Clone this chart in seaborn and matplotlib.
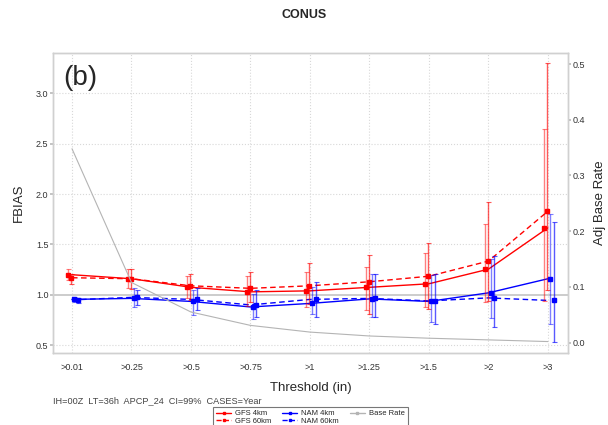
import numpy as np
import pandas as pd
import matplotlib
matplotlib.use('Agg')
import matplotlib.pyplot as plt
from matplotlib.lines import Line2D
from matplotlib.legend_handler import HandlerLine2D
import seaborn as sns

# thresholds and values
thresholds = ['>0.01', '>0.25', '>0.5', '>0.75', '>1', '>1.25', '>1.5', '>2', '>3']

gfs4 = [1.20, 1.16, 1.075, 1.03, 1.04, 1.075, 1.11, 1.255, 1.665]
gfs4_lo = [1.15, 1.065, 0.965, 0.885, 0.875, 0.85, 0.875, 0.925, 0.94]
gfs4_hi = [1.255, 1.255, 1.19, 1.19, 1.225, 1.28, 1.415, 1.705, 2.645]

gfs60 = [1.17, 1.16, 1.09, 1.065, 1.09, 1.13, 1.185, 1.335, 1.83]
gfs60_lo = [1.11, 1.055, 0.95, 0.925, 0.905, 0.815, 0.855, 0.94, 1.045]
gfs60_hi = [1.21, 1.255, 1.205, 1.225, 1.315, 1.395, 1.51, 1.92, 3.30]

nam4 = [0.955, 0.965, 0.935, 0.88, 0.915, 0.96, 0.935, 1.02, 1.16]
nam4_lo = [0.93, 0.875, 0.80, 0.76, 0.81, 0.785, 0.735, 0.77, 0.71]
nam4_hi = [0.98, 1.065, 1.05, 1.005, 1.08, 1.205, 1.195, 1.355, 1.80]

nam60 = [0.95, 0.975, 0.955, 0.90, 0.955, 0.965, 0.94, 0.97, 0.945]
nam60_lo = [0.92, 0.90, 0.845, 0.785, 0.785, 0.78, 0.71, 0.685, 0.535]
nam60_hi = [0.97, 1.05, 1.065, 1.05, 1.125, 1.205, 1.205, 1.39, 1.72]

base_rate = [0.348, 0.108, 0.055, 0.031, 0.019, 0.012, 0.008, 0.005, 0.002]

models = ['GFS 4km', 'GFS 60km', 'NAM 4km', 'NAM 60km']
series = {
    'GFS 4km': (gfs4, gfs4_lo, gfs4_hi),
    'GFS 60km': (gfs60, gfs60_lo, gfs60_hi),
    'NAM 4km': (nam4, nam4_lo, nam4_hi),
    'NAM 60km': (nam60, nam60_lo, nam60_hi),
}
colors = {'GFS 4km': 'red', 'GFS 60km': 'red', 'NAM 4km': 'blue', 'NAM 60km': 'blue'}
dashes = {'GFS 4km': '', 'GFS 60km': (4, 2.5), 'NAM 4km': '', 'NAM 60km': (4, 2.5)}
offsets = {'GFS 4km': -0.064, 'GFS 60km': -0.013, 'NAM 4km': 0.042, 'NAM 60km': 0.096}
bar_alpha = {'GFS 4km': 0.5, 'GFS 60km': 0.65, 'NAM 4km': 0.5, 'NAM 60km': 0.65}


# legend marker at the right end of the line, like the original
class EndMarker(HandlerLine2D):
    def get_xdata(self, legend, xdescent, ydescent, width, height, fontsize):
        xdata, _ = super().get_xdata(legend, xdescent, ydescent, width, height, fontsize)
        return xdata, [xdata[-1]]


sns.set_theme(style='white')
plt.rcParams['font.family'] = ['Liberation Sans', 'DejaVu Sans']

xpos = np.arange(len(thresholds))
rows = []
for m in models:
    for i, v in enumerate(series[m][0]):
        rows.append({'x': xpos[i], 'fbias': v, 'model': m})
df = pd.DataFrame(rows)

fig = plt.figure(figsize=(6.08, 4.25), dpi=100)
ax = fig.add_axes([0.0877, 0.1688, 0.8463, 0.7072])

# grid and the 1.0 reference line
for y in [0.5, 1.5, 2.0, 2.5, 3.0]:
    ax.axhline(y, color='#d8d8d8', lw=0.8, ls=':', zorder=0)
for x in xpos:
    ax.axvline(x, color='#d8d8d8', lw=0.8, ls=':', zorder=0)
ax.axhline(1.0, color='#c8c8c8', lw=1.3, zorder=1)

sns.lineplot(data=df, x='x', y='fbias', hue='model', style='model',
             palette=colors, dashes=dashes, lw=1.0, legend=False, ax=ax, zorder=3)

for m in models:
    v, lo, hi = series[m]
    v = np.array(v)
    err = [v - np.array(lo), np.array(hi) - v]
    ax.errorbar(xpos + offsets[m], v, yerr=err, fmt='none', ecolor=colors[m],
                elinewidth=1.0, capsize=1.8, capthick=0.8, alpha=bar_alpha[m], zorder=4)
    ax.plot(xpos + offsets[m], v, 's', color=colors[m], ms=2.6, zorder=5)

ax.set_xlim(-0.314, 8.336)
ax.set_ylim(0.4206, 3.403)
ax.set_yticks([0.5, 1.0, 1.5, 2.0, 2.5, 3.0])
ax.set_yticklabels(['0.5', '1.0', '1.5', '2.0', '2.5', '3.0'])
ax.set_xticks(xpos)
ax.set_xticklabels(thresholds)
ax.tick_params(axis='x', length=0, pad=7, labelsize=6.5, labelcolor='#333333')
ax.tick_params(axis='y', length=2, pad=1.5, labelsize=6.5, color='#bbbbbb', labelcolor='#333333')
ax.set_xlabel('Threshold (in)', fontsize=9.5, labelpad=7)
ax.set_ylabel('FBIAS', fontsize=9.5, labelpad=8)

ax2 = ax.twinx()
sns.lineplot(x=xpos, y=base_rate, color='#b4b4b4', lw=0.8, ax=ax2)
ax2.set_ylim(-0.019, 0.5203)
ax2.set_yticks([0.0, 0.1, 0.2, 0.3, 0.4, 0.5])
ax2.set_yticklabels(['0.0', '0.1', '0.2', '0.3', '0.4', '0.5'])
ax2.tick_params(axis='y', length=2, pad=1.5, labelsize=6.5, color='#bbbbbb', labelcolor='#333333')
ax2.set_ylabel('Adj Base Rate', fontsize=9.5, labelpad=6)

for a in (ax, ax2):
    for s in a.spines.values():
        s.set_color('#d0d0d0')
        s.set_linewidth(1.0)

ax.text(0.02, 0.915, '(b)', transform=ax.transAxes, fontsize=20, va='center', ha='left')
fig.text(0.5, 0.965, 'CONUS', fontsize=9, fontweight='bold', ha='center', va='center')
fig.text(0.087, 0.058, 'IH=00Z  LT=36h  APCP_24  CI=99%  CASES=Year', fontsize=6.6,
         color='#444444', ha='left', va='center')

handles = [
    Line2D([], [], color='red', lw=1, marker='s', ms=2),
    Line2D([], [], color='red', lw=1, ls='--', marker='s', ms=2),
    Line2D([], [], color='blue', lw=1, marker='s', ms=2),
    Line2D([], [], color='blue', lw=1, ls='--', marker='s', ms=2),
    Line2D([], [], color='#b4b4b4', lw=1, marker='s', ms=2),
]
leg = fig.legend(handles, ['GFS 4km', 'GFS 60km', 'NAM 4km', 'NAM 60km', 'Base Rate'],
                 loc='upper left', bbox_to_anchor=(213 / 608, 1 - 407 / 425), ncol=3,
                 fontsize=5.5, frameon=True, fancybox=False, borderaxespad=0,
                 handlelength=2.0, handletextpad=0.5, columnspacing=1.4,
                 labelspacing=0.05, borderpad=0.4,
                 handler_map={Line2D: EndMarker()})
leg.get_frame().set_edgecolor('#555555')
leg.get_frame().set_linewidth(0.8)

fig.savefig('out.png', dpi=100)
